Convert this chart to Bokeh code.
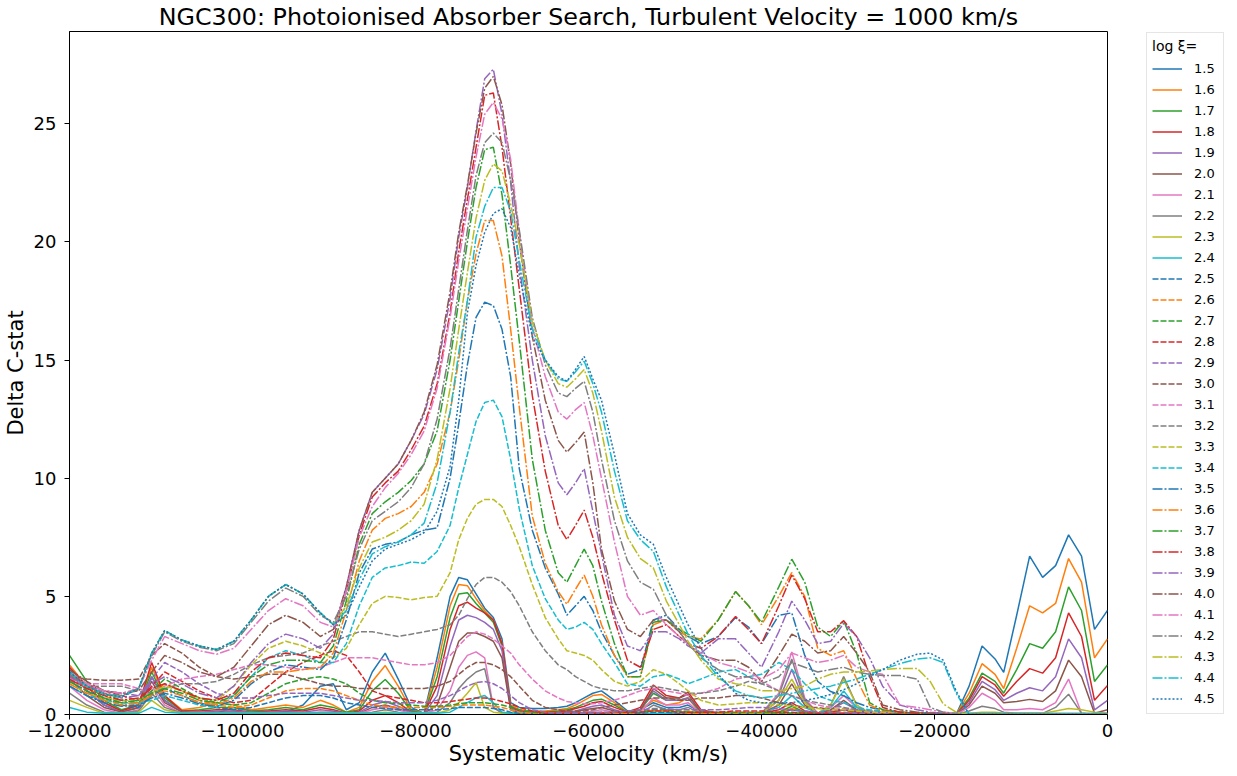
from bokeh.plotting import figure
from bokeh.models import Range1d, FixedTicker, CustomJSTickFormatter, Legend, LegendItem
from bokeh.embed import file_html
from bokeh.resources import INLINE

VELOCITY = [
    -120000, -118000, -116000, -114000, -112000, -110500, -109000, -107000, -105000, -103000,
    -101000, -99000, -97000, -95000, -93000, -91000, -89500, -88000, -86500, -85000,
    -83500, -82000, -80500, -79000, -77500, -76000, -75000, -74000, -73000, -72000,
    -71000, -70000, -69000, -68000, -66500, -65000, -63500, -62500, -61500, -60500,
    -59500, -58500, -57000, -55500, -54000, -52500, -51000, -49500, -48500, -47000,
    -45000, -43000, -41500, -40000, -38000, -36500, -35000, -33500, -32000, -30500,
    -29000, -27500, -26000, -24000, -22000, -20500, -19000, -17500, -16000, -14500,
    -13000, -12000, -10500, -9000, -7500, -6000, -4500, -3000, -1500, 0,
]

LOG_XI = ["1.5", "1.6", "1.7", "1.8", "1.9", "2.0", "2.1", "2.2", "2.3", "2.4",
          "2.5", "2.6", "2.7", "2.8", "2.9", "3.0", "3.1", "3.2", "3.3", "3.4",
          "3.5", "3.6", "3.7", "3.8", "3.9", "4.0", "4.1", "4.2", "4.3", "4.4", "4.5"]

dc15 = ([1.9, 1.0, 0.4, 0.1, 0.3, 1.6, 0.6, 0.1, 0.05, 0.05]
        + [0.3, 0.2, 0.1, 0.1, 0.4, 1.2, 1.3, 0.2, 0.5, 1.8]
        + [2.6, 1.5, 0.3, 0.05, 2.4, 5.0, 5.8, 5.7, 5.1, 4.5]
        + [4.1, 3.2, 0.5, 0.3, 0.25, 0.25, 0.3, 0.35, 0.5, 0.7]
        + [0.9, 1.0, 0.6, 0.15, 0.2, 0.5, 0.3, 0.3, 0.4, 0.1]
        + [0.05, 0.05, 0.05, 0.05, 0.1, 0.2, 0.1, 0.05, 0.1, 0.2]
        + [0.1, 0.05, 0.05, 0.05, 0.05, 0.05, 0.05, 0.0, 1.2, 2.9]
        + [2.35, 1.78, 4.2, 6.7, 5.8, 6.3, 7.6, 6.7, 3.6, 4.4])
dc16 = ([2.1, 1.2, 0.5, 0.15, 0.4, 2.0, 0.8, 0.2, 0.3, 0.5]
        + [0.4, 0.2, 0.3, 0.4, 0.3, 0.6, 0.4, 0.1, 0.3, 1.4]
        + [2.07, 1.2, 0.2, 0.05, 2.0, 4.6, 5.5, 5.45, 4.9, 4.4]
        + [4.0, 3.0, 0.4, 0.2, 0.15, 0.15, 0.2, 0.25, 0.4, 0.6]
        + [0.8, 0.85, 0.5, 0.1, 0.2, 0.6, 0.4, 0.5, 0.7, 0.05]
        + [0.05, 0.05, 0.05, 0.05, 0.1, 0.25, 0.1, 0.05, 0.1, 0.2]
        + [0.1, 0.05, 0.05, 0.05, 0.05, 0.05, 0.05, 0.0, 0.9, 2.15]
        + [1.7, 1.1, 2.8, 4.6, 4.3, 4.7, 6.6, 5.6, 2.4, 3.2])
dc17 = ([2.5, 1.4, 0.6, 0.2, 0.4, 1.8, 0.7, 0.15, 0.2, 0.3]
        + [0.3, 0.15, 0.2, 0.3, 0.2, 0.4, 0.3, 0.1, 0.2, 1.0]
        + [1.48, 0.9, 0.15, 0.05, 1.6, 4.1, 5.1, 5.15, 4.7, 4.3]
        + [3.9, 2.9, 0.35, 0.15, 0.1, 0.1, 0.15, 0.2, 0.3, 0.45]
        + [0.6, 0.65, 0.4, 0.1, 0.2, 0.9, 0.6, 0.6, 0.7, 0.1]
        + [0.05, 0.05, 0.05, 0.05, 0.1, 0.35, 0.1, 0.05, 0.1, 0.2]
        + [0.1, 0.05, 0.05, 0.05, 0.05, 0.05, 0.05, 0.0, 0.7, 1.75]
        + [1.4, 0.9, 1.9, 3.0, 2.8, 3.5, 5.4, 4.4, 1.4, 2.1])
dc18 = ([2.0, 1.2, 0.5, 0.15, 0.4, 2.2, 0.8, 0.15, 0.15, 0.2]
        + [0.2, 0.1, 0.15, 0.2, 0.15, 0.3, 0.2, 0.05, 0.15, 0.6]
        + [0.8, 0.5, 0.1, 0.05, 1.2, 3.6, 4.6, 4.75, 4.5, 4.3]
        + [4.0, 3.0, 0.3, 0.15, 0.1, 0.1, 0.1, 0.15, 0.25, 0.35]
        + [0.5, 0.55, 0.3, 0.1, 0.3, 1.25, 0.8, 0.7, 0.95, 0.2]
        + [0.05, 0.05, 0.05, 0.05, 0.2, 0.5, 0.15, 0.05, 0.1, 0.2]
        + [0.1, 0.05, 0.05, 0.05, 0.05, 0.05, 0.05, 0.0, 0.6, 1.6]
        + [1.25, 0.77, 1.4, 1.94, 1.75, 2.4, 4.3, 3.3, 0.6, 1.23])
dc19 = ([1.8, 1.0, 0.4, 0.1, 0.3, 1.6, 0.6, 0.1, 0.1, 0.15]
        + [0.15, 0.1, 0.1, 0.15, 0.1, 0.2, 0.15, 0.05, 0.1, 0.4]
        + [0.55, 0.35, 0.1, 0.05, 0.8, 2.9, 4.0, 4.2, 4.1, 3.9]
        + [3.6, 2.7, 0.25, 0.1, 0.05, 0.05, 0.05, 0.1, 0.15, 0.25]
        + [0.35, 0.4, 0.2, 0.05, 0.2, 1.0, 0.6, 0.6, 0.7, 0.15]
        + [0.05, 0.05, 0.05, 0.05, 0.6, 1.9, 0.5, 0.05, 0.2, 0.5]
        + [0.2, 0.05, 0.05, 0.05, 0.05, 0.05, 0.05, 0.0, 0.5, 1.4]
        + [1.05, 0.6, 0.9, 1.13, 1.0, 1.6, 3.2, 2.4, 0.2, 0.6])
dc20 = ([1.5, 0.8, 0.3, 0.1, 0.3, 1.4, 0.5, 0.1, 0.05, 0.1]
        + [0.1, 0.05, 0.05, 0.1, 0.05, 0.1, 0.1, 0.05, 0.05, 0.3]
        + [0.4, 0.25, 0.05, 0.05, 0.4, 2.0, 3.1, 3.45, 3.45, 3.3]
        + [3.1, 2.4, 0.2, 0.05, 0.05, 0.05, 0.05, 0.05, 0.1, 0.2]
        + [0.25, 0.3, 0.15, 0.05, 0.2, 1.1, 0.7, 0.7, 0.85, 0.1]
        + [0.05, 0.05, 0.05, 0.05, 0.4, 1.3, 0.4, 0.05, 0.2, 0.6]
        + [0.2, 0.05, 0.05, 0.05, 0.05, 0.05, 0.05, 0.0, 0.4, 1.2]
        + [0.9, 0.5, 0.55, 0.64, 0.55, 1.0, 2.3, 1.6, 0.05, 0.2])
dc21 = ([1.2, 0.6, 0.2, 0.05, 0.2, 1.2, 0.4, 0.05, 0.05, 0.05]
        + [0.05, 0.05, 0.05, 0.05, 0.05, 0.05, 0.05, 0.05, 0.05, 0.2]
        + [0.3, 0.2, 0.05, 0.05, 0.2, 1.0, 2.0, 2.5, 2.65, 2.4]
        + [0.3, 0.1, 0.05, 0.05, 0.05, 0.05, 0.05, 0.05, 0.05, 0.1]
        + [0.15, 0.2, 0.1, 0.05, 0.1, 0.7, 0.4, 0.4, 0.5, 0.05]
        + [0.05, 0.05, 0.05, 0.05, 0.9, 2.65, 0.7, 0.05, 0.3, 0.8]
        + [0.3, 0.05, 0.05, 0.05, 0.05, 0.05, 0.05, 0.0, 0.3, 0.9]
        + [0.6, 0.2, 0.2, 0.25, 0.2, 0.5, 1.5, 0.05, 0.0, 0.0])
dc22 = ([0.9, 0.4, 0.1, 0.05, 0.15, 0.9, 0.3, 0.05, 0.05, 0.05]
        + [0.05, 0.05, 0.05, 0.05, 0.05, 0.05, 0.05, 0.05, 0.05, 0.1]
        + [0.2, 0.1, 0.05, 0.05, 0.1, 0.5, 1.1, 1.5, 1.8, 1.94]
        + [0.3, 0.05, 0.05, 0.05, 0.05, 0.05, 0.05, 0.05, 0.05, 0.05]
        + [0.1, 0.1, 0.05, 0.05, 0.05, 0.4, 0.2, 0.2, 0.3, 0.05]
        + [0.05, 0.05, 0.05, 0.05, 0.8, 2.35, 0.6, 0.05, 0.4, 1.6]
        + [0.4, 0.05, 0.05, 0.05, 0.05, 0.05, 0.05, 0.0, 0.15, 0.35]
        + [0.25, 0.1, 0.05, 0.05, 0.05, 0.3, 0.86, 0.05, 0.0, 0.0])
dc23 = ([0.6, 0.3, 0.05, 0.05, 0.1, 0.6, 0.2, 0.05, 0.05, 0.05]
        + [0.05, 0.05, 0.05, 0.05, 0.05, 0.05, 0.05, 0.05, 0.05, 0.05]
        + [0.1, 0.05, 0.05, 0.05, 0.05, 0.2, 0.5, 0.9, 1.35, 0.3]
        + [0.1, 0.05, 0.05, 0.05, 0.05, 0.05, 0.05, 0.05, 0.05, 0.05]
        + [0.05, 0.05, 0.05, 0.05, 0.05, 0.2, 0.1, 0.1, 0.15, 0.05]
        + [0.05, 0.05, 0.05, 0.05, 0.6, 1.5, 0.5, 0.05, 0.4, 1.5]
        + [0.4, 0.05, 0.05, 0.05, 0.05, 0.05, 0.05, 0.0, 0.05, 0.1]
        + [0.1, 0.05, 0.05, 0.05, 0.05, 0.15, 0.25, 0.2, 0.1, 0.05])
dc24 = ([0.3, 0.1, 0.05, 0.05, 0.05, 0.3, 0.1, 0.05, 0.05, 0.05]
        + [0.05, 0.05, 0.05, 0.05, 0.05, 0.05, 0.05, 0.05, 0.05, 0.05]
        + [0.05, 0.05, 0.05, 0.05, 0.05, 0.1, 0.3, 0.5, 0.7, 0.8]
        + [0.5, 0.1, 0.05, 0.05, 0.05, 0.05, 0.05, 0.05, 0.05, 0.05]
        + [0.05, 0.05, 0.05, 0.05, 0.05, 0.05, 0.05, 0.05, 0.05, 0.05]
        + [0.05, 0.05, 0.05, 0.05, 0.3, 0.8, 0.3, 0.05, 0.3, 1.0]
        + [0.3, 0.05, 0.05, 0.05, 0.05, 0.05, 0.05, 0.05, 0.05, 0.05]
        + [0.05, 0.05, 0.05, 0.05, 0.05, 0.05, 0.05, 0.05, 0.05, 0.05])
dc25 = ([1.4, 1.0, 0.7, 0.4, 0.3, 0.8, 1.1, 0.8, 0.5, 0.3]
        + [0.2, 0.3, 0.5, 0.7, 0.8, 0.8, 0.7, 0.5, 0.4, 0.3]
        + [0.25, 0.2, 0.2, 0.2, 0.2, 0.25, 0.3, 0.3, 0.3, 0.3]
        + [0.25, 0.2, 0.1, 0.05, 0.05, 0.05, 0.05, 0.05, 0.05, 0.05]
        + [0.05, 0.05, 0.05, 0.05, 0.05, 0.1, 0.1, 0.05, 0.05, 0.05]
        + [0.05, 0.05, 0.05, 0.05, 0.05, 0.05, 0.05, 0.05, 0.05, 0.05]
        + [0.05, 0.05, 0.05, 0.05, 0.05, 0.05, 0.05, 0.0, 0.0, 0.0]
        + [0.0, 0.0, 0.0, 0.0, 0.0, 0.0, 0.0, 0.0, 0.0, 0.0])
dc26 = ([1.5, 1.1, 0.8, 0.5, 0.4, 0.9, 1.3, 1.0, 0.6, 0.4]
        + [0.3, 0.4, 0.7, 1.0, 1.1, 1.1, 1.0, 0.8, 0.6, 0.4]
        + [0.35, 0.3, 0.3, 0.3, 0.3, 0.35, 0.4, 0.4, 0.4, 0.4]
        + [0.35, 0.3, 0.2, 0.1, 0.05, 0.05, 0.05, 0.05, 0.05, 0.05]
        + [0.05, 0.05, 0.05, 0.05, 0.1, 0.15, 0.15, 0.1, 0.05, 0.05]
        + [0.05, 0.05, 0.05, 0.05, 0.05, 0.05, 0.05, 0.05, 0.05, 0.05]
        + [0.05, 0.05, 0.05, 0.05, 0.05, 0.05, 0.05, 0.0, 0.0, 0.0]
        + [0.0, 0.0, 0.0, 0.0, 0.0, 0.0, 0.0, 0.0, 0.0, 0.0])
dc27 = ([1.6, 1.2, 0.9, 0.6, 0.5, 1.0, 1.5, 1.1, 0.7, 0.5]
        + [0.4, 0.5, 0.9, 1.3, 1.5, 1.6, 1.5, 1.3, 0.9, 0.6]
        + [0.5, 0.45, 0.4, 0.35, 0.35, 0.4, 0.45, 0.5, 0.5, 0.5]
        + [0.45, 0.4, 0.3, 0.2, 0.1, 0.05, 0.05, 0.05, 0.05, 0.05]
        + [0.05, 0.05, 0.1, 0.1, 0.1, 0.2, 0.2, 0.15, 0.1, 0.1]
        + [0.1, 0.1, 0.1, 0.1, 0.05, 0.05, 0.05, 0.05, 0.05, 0.05]
        + [0.05, 0.05, 0.05, 0.05, 0.05, 0.05, 0.05, 0.0, 0.0, 0.0]
        + [0.0, 0.0, 0.0, 0.0, 0.0, 0.0, 0.0, 0.0, 0.0, 0.0])
dc28 = ([1.7, 1.3, 1.0, 0.8, 0.6, 1.2, 1.8, 1.4, 1.0, 0.7]
        + [0.5, 0.6, 1.2, 1.8, 2.2, 2.5, 2.7, 2.5, 1.8, 1.0]
        + [0.8, 0.7, 0.6, 0.5, 0.5, 0.55, 0.6, 0.65, 0.7, 0.7]
        + [0.65, 0.55, 0.45, 0.3, 0.15, 0.05, 0.05, 0.05, 0.05, 0.05]
        + [0.05, 0.05, 0.1, 0.1, 0.1, 0.15, 0.15, 0.1, 0.1, 0.1]
        + [0.1, 0.15, 0.15, 0.15, 0.1, 0.1, 0.05, 0.05, 0.05, 0.05]
        + [0.05, 0.05, 0.05, 0.05, 0.05, 0.05, 0.05, 0.0, 0.0, 0.0]
        + [0.0, 0.0, 0.0, 0.0, 0.0, 0.0, 0.0, 0.0, 0.0, 0.0])
dc29 = ([1.5, 1.2, 1.0, 0.9, 0.8, 1.5, 2.2, 1.8, 1.3, 0.9]
        + [0.7, 0.7, 0.8, 0.9, 0.9, 0.9, 0.8, 0.7, 0.6, 0.6]
        + [0.55, 0.5, 0.5, 0.5, 0.6, 0.8, 1.0, 1.2, 1.35, 1.4]
        + [1.3, 1.1, 0.8, 0.5, 0.2, 0.1, 0.05, 0.05, 0.05, 0.05]
        + [0.05, 0.1, 0.1, 0.15, 0.2, 0.25, 0.25, 0.2, 0.2, 0.2]
        + [0.2, 0.25, 0.3, 0.3, 0.25, 0.2, 0.15, 0.1, 0.1, 0.1]
        + [0.05, 0.05, 0.05, 0.05, 0.05, 0.05, 0.05, 0.0, 0.0, 0.0]
        + [0.0, 0.0, 0.0, 0.0, 0.0, 0.0, 0.0, 0.0, 0.0, 0.0])
dc30 = ([1.6, 1.5, 1.45, 1.45, 1.5, 2.5, 3.0, 2.6, 2.0, 1.6]
        + [1.5, 1.6, 1.7, 1.7, 1.5, 1.3, 1.2, 1.2, 1.1, 1.1]
        + [1.1, 1.1, 1.1, 1.1, 1.2, 1.4, 1.7, 2.0, 2.2, 2.2]
        + [2.1, 1.9, 1.6, 1.2, 0.6, 0.3, 0.2, 0.15, 0.15, 0.15]
        + [0.2, 0.3, 0.4, 0.5, 0.6, 0.7, 0.7, 0.6, 0.6, 0.7]
        + [0.7, 0.8, 0.8, 0.7, 0.5, 0.4, 0.3, 0.3, 0.2, 0.2]
        + [0.15, 0.1, 0.1, 0.05, 0.05, 0.05, 0.05, 0.0, 0.0, 0.0]
        + [0.0, 0.0, 0.0, 0.0, 0.0, 0.0, 0.0, 0.0, 0.0, 0.0])
dc31 = ([1.5, 1.3, 1.3, 1.3, 1.1, 0.9, 1.2, 1.5, 1.6, 1.7]
        + [1.9, 2.1, 2.1, 2.0, 1.9, 2.0, 2.2, 2.4, 2.4, 2.4]
        + [2.3, 2.2, 2.1, 2.1, 2.2, 2.5, 2.9, 3.3, 3.5, 3.4]
        + [3.2, 2.9, 2.6, 2.1, 1.5, 1.0, 0.7, 0.55, 0.5, 0.45]
        + [0.45, 0.5, 0.6, 0.8, 1.0, 1.1, 1.0, 0.9, 0.8, 0.9]
        + [1.1, 1.5, 1.6, 1.4, 1.0, 0.8, 0.6, 0.4, 0.3, 0.25]
        + [0.2, 0.15, 0.1, 0.1, 0.05, 0.05, 0.05, 0.0, 0.0, 0.0]
        + [0.0, 0.0, 0.0, 0.0, 0.0, 0.0, 0.0, 0.0, 0.0, 0.0])
dc32 = ([1.4, 1.2, 1.2, 1.2, 1.0, 0.9, 1.1, 1.3, 1.3, 1.4]
        + [1.7, 2.1, 2.4, 2.5, 2.6, 2.9, 3.1, 3.3, 3.5, 3.5]
        + [3.4, 3.3, 3.4, 3.5, 3.6, 3.8, 4.2, 4.9, 5.5, 5.8]
        + [5.8, 5.6, 5.2, 4.6, 3.5, 2.7, 2.1, 1.9, 1.6, 1.4]
        + [1.2, 1.1, 1.0, 1.0, 1.1, 1.2, 1.1, 1.0, 0.9, 0.9]
        + [1.0, 1.2, 1.4, 1.3, 1.0, 0.8, 0.6, 0.5, 0.4, 0.3]
        + [0.2, 0.15, 0.1, 0.1, 0.05, 0.05, 0.05, 0.0, 0.0, 0.0]
        + [0.0, 0.0, 0.0, 0.0, 0.0, 0.0, 0.0, 0.0, 0.0, 0.0])
dc33 = ([1.3, 0.9, 0.7, 0.6, 0.6, 0.9, 1.2, 1.0, 0.7, 0.6]
        + [1.2, 2.1, 2.8, 3.1, 2.9, 2.6, 2.4, 2.8, 3.8, 4.7]
        + [5.0, 4.95, 4.85, 4.95, 5.0, 6.0, 7.4, 8.3, 8.9, 9.1]
        + [9.1, 8.8, 8.0, 7.1, 5.5, 4.1, 3.2, 2.7, 2.6, 2.5]
        + [2.3, 1.9, 1.4, 1.2, 1.4, 1.9, 1.7, 1.3, 1.0, 0.6]
        + [0.4, 0.45, 0.5, 0.5, 0.4, 0.35, 0.3, 0.25, 0.2, 0.2]
        + [0.15, 0.1, 0.1, 0.1, 0.05, 0.05, 0.05, 0.0, 0.0, 0.0]
        + [0.0, 0.0, 0.0, 0.0, 0.0, 0.0, 0.0, 0.0, 0.0, 0.0])
dc34 = ([1.2, 0.8, 0.6, 0.5, 0.5, 0.6, 0.8, 0.6, 0.4, 0.3]
        + [0.8, 1.6, 2.4, 2.7, 2.5, 2.2, 2.2, 3.0, 4.6, 5.8]
        + [6.2, 6.3, 6.45, 6.4, 6.9, 8.0, 9.6, 11.0, 12.4, 13.2]
        + [13.3, 12.6, 10.8, 8.7, 6.3, 4.9, 4.0, 3.6, 3.7, 3.9]
        + [3.6, 3.0, 2.2, 1.3, 1.2, 1.6, 1.7, 1.5, 1.3, 1.5]
        + [1.8, 1.9, 1.6, 1.7, 2.2, 1.9, 1.3, 0.8, 0.6, 0.5]
        + [0.3, 0.2, 0.15, 0.1, 0.05, 0.05, 0.05, 0.0, 0.0, 0.0]
        + [0.0, 0.0, 0.0, 0.0, 0.0, 0.0, 0.0, 0.0, 0.0, 0.0])
dc35 = ([1.2, 0.8, 0.5, 0.35, 0.4, 0.7, 0.9, 0.7, 0.45, 0.35]
        + [0.6, 1.3, 1.8, 2.1, 2.0, 1.9, 2.4, 4.0, 6.0, 7.0]
        + [7.2, 7.3, 7.6, 7.8, 7.9, 10.0, 12.3, 14.8, 16.8, 17.45]
        + [17.3, 16.3, 14.3, 10.4, 7.8, 6.2, 5.1, 4.2, 4.6, 5.0]
        + [4.4, 3.5, 2.5, 1.7, 1.9, 4.0, 4.2, 3.6, 3.3, 3.0]
        + [3.3, 4.1, 3.7, 3.0, 4.2, 4.3, 2.5, 1.4, 0.97, 0.8]
        + [0.5, 0.3, 0.2, 0.1, 0.05, 0.05, 0.05, 0.0, 0.0, 0.0]
        + [0.0, 0.0, 0.0, 0.0, 0.0, 0.0, 0.0, 0.0, 0.0, 0.0])
dc36 = ([1.3, 0.9, 0.6, 0.4, 0.5, 0.8, 1.0, 0.8, 0.5, 0.4]
        + [0.7, 1.4, 1.8, 1.8, 1.9, 2.0, 2.6, 4.4, 6.5, 7.8]
        + [8.3, 8.5, 8.8, 9.4, 10.6, 12.8, 15.0, 17.5, 19.5, 20.9]
        + [20.9, 19.4, 16.3, 13.0, 8.4, 6.4, 5.2, 4.67, 5.3, 5.9]
        + [5.0, 3.8, 2.5, 1.6, 1.6, 3.8, 4.0, 3.5, 3.3, 3.2]
        + [4.0, 5.2, 4.6, 3.8, 5.0, 6.0, 5.0, 2.8, 2.5, 2.7]
        + [1.5, 0.4, 0.15, 0.1, 0.05, 0.0, 0.0, 0.0, 0.0, 0.0]
        + [0.0, 0.0, 0.0, 0.0, 0.0, 0.0, 0.0, 0.0, 0.0, 0.0])
dc37 = ([1.4, 1.0, 0.7, 0.5, 0.6, 0.9, 1.1, 0.9, 0.6, 0.5]
        + [0.8, 1.6, 2.1, 2.3, 2.3, 2.2, 2.9, 4.8, 7.2, 8.5]
        + [9.0, 9.4, 9.9, 10.6, 12.0, 15.0, 17.5, 20.0, 22.3, 23.9]
        + [24.0, 22.0, 19.0, 15.8, 10.8, 7.8, 6.0, 5.6, 6.3, 7.0]
        + [6.3, 4.8, 3.0, 1.6, 1.6, 3.9, 4.0, 3.6, 3.4, 3.1]
        + [4.0, 5.2, 4.6, 3.9, 5.4, 6.57, 5.6, 3.7, 3.3, 3.97]
        + [2.6, 0.5, 0.2, 0.1, 0.05, 0.0, 0.0, 0.0, 0.0, 0.0]
        + [0.0, 0.0, 0.0, 0.0, 0.0, 0.0, 0.0, 0.0, 0.0, 0.0])
dc38 = ([1.5, 1.1, 0.8, 0.6, 0.7, 1.1, 1.3, 1.0, 0.7, 0.6]
        + [0.9, 1.8, 2.4, 2.6, 2.5, 2.4, 3.2, 5.2, 7.6, 9.2]
        + [9.8, 10.3, 11.2, 12.2, 14.0, 17.0, 19.6, 21.8, 24.0, 26.2]
        + [26.3, 24.0, 21.0, 18.0, 13.5, 10.3, 8.0, 7.4, 8.0, 8.65]
        + [7.5, 6.0, 4.0, 2.3, 2.0, 3.6, 3.8, 3.3, 3.0, 2.8]
        + [3.3, 4.15, 3.6, 3.0, 4.6, 5.9, 4.9, 3.5, 3.5, 3.97]
        + [3.3, 1.6, 0.3, 0.1, 0.05, 0.0, 0.0, 0.0, 0.0, 0.0]
        + [0.0, 0.0, 0.0, 0.0, 0.0, 0.0, 0.0, 0.0, 0.0, 0.0])
dc39 = ([1.6, 1.2, 0.9, 0.7, 0.8, 1.3, 1.6, 1.3, 0.9, 0.7]
        + [1.2, 2.2, 3.0, 3.4, 3.2, 2.8, 3.4, 5.4, 7.8, 9.4]
        + [10.0, 10.6, 11.6, 12.7, 14.6, 17.6, 20.2, 22.3, 24.7, 26.9]
        + [27.3, 25.4, 22.5, 19.0, 15.0, 11.8, 9.8, 9.3, 9.8, 10.4]
        + [8.6, 6.8, 4.2, 2.9, 2.7, 3.5, 3.5, 3.2, 2.9, 2.6]
        + [3.2, 3.2, 2.6, 2.0, 3.5, 4.8, 4.0, 3.0, 3.1, 3.85]
        + [3.3, 2.4, 1.2, 0.4, 0.2, 0.1, 0.05, 0.0, 0.0, 0.0]
        + [0.0, 0.0, 0.0, 0.0, 0.0, 0.0, 0.0, 0.0, 0.0, 0.0])
dc40 = ([1.9, 1.4, 1.0, 0.9, 1.0, 1.8, 2.5, 2.2, 1.8, 1.6]
        + [2.0, 2.9, 3.8, 4.2, 3.9, 3.3, 3.6, 5.4, 7.8, 9.4]
        + [10.0, 10.6, 11.6, 12.8, 14.8, 17.9, 20.4, 22.4, 24.6, 26.5]
        + [27.0, 25.8, 23.3, 20.0, 16.0, 13.3, 11.6, 11.1, 11.5, 11.95]
        + [9.8, 7.0, 4.8, 3.6, 3.3, 4.0, 4.0, 3.5, 3.0, 2.5]
        + [2.3, 2.3, 2.0, 1.4, 2.5, 3.4, 3.1, 2.6, 2.7, 3.3]
        + [2.6, 1.8, 0.4, 0.2, 0.1, 0.05, 0.05, 0.0, 0.0, 0.0]
        + [0.0, 0.0, 0.0, 0.0, 0.0, 0.0, 0.0, 0.0, 0.0, 0.0])
dc41 = ([1.8, 1.3, 1.0, 0.9, 1.1, 2.3, 3.3, 3.0, 2.7, 2.55]
        + [2.8, 3.6, 4.4, 4.9, 4.6, 3.9, 3.7, 5.2, 7.5, 8.8]
        + [9.6, 10.2, 11.0, 12.0, 13.8, 16.8, 19.2, 21.4, 23.6, 25.4]
        + [25.9, 25.2, 23.5, 20.4, 16.4, 14.3, 12.8, 12.5, 12.9, 13.2]
        + [11.8, 10.0, 7.3, 5.0, 4.2, 4.4, 3.8, 3.3, 3.0, 2.6]
        + [2.2, 2.0, 1.8, 1.5, 1.9, 2.6, 2.4, 2.2, 2.3, 2.5]
        + [2.0, 1.8, 1.7, 0.4, 0.3, 0.2, 0.1, 0.05, 0.0, 0.0]
        + [0.0, 0.0, 0.0, 0.0, 0.0, 0.0, 0.0, 0.0, 0.0, 0.0])
dc42 = ([1.7, 1.2, 0.9, 0.8, 1.1, 2.5, 3.5, 3.1, 2.85, 2.7]
        + [3.0, 3.9, 4.8, 5.35, 5.0, 4.2, 3.9, 5.0, 7.0, 8.2]
        + [8.6, 9.0, 9.6, 10.6, 12.5, 15.5, 18.0, 20.5, 22.8, 24.2]
        + [24.6, 24.2, 22.6, 20.5, 16.8, 14.8, 13.6, 13.45, 13.8, 14.1]
        + [12.8, 10.8, 8.2, 6.5, 5.6, 5.3, 4.2, 3.5, 3.0, 2.4]
        + [1.9, 1.6, 1.6, 1.3, 1.6, 2.2, 2.0, 1.8, 1.9, 2.0]
        + [1.8, 1.7, 1.65, 1.65, 1.5, 0.3, 0.1, 0.05, 0.0, 0.0]
        + [0.0, 0.0, 0.0, 0.0, 0.0, 0.0, 0.0, 0.0, 0.0, 0.0])
dc43 = ([1.8, 1.2, 0.85, 0.75, 1.1, 2.6, 3.55, 3.15, 2.9, 2.75]
        + [3.1, 4.0, 5.0, 5.5, 5.1, 4.3, 3.8, 4.6, 6.2, 7.3]
        + [7.5, 7.8, 8.2, 8.9, 10.8, 13.8, 16.3, 18.7, 21.0, 22.6]
        + [23.3, 23.0, 21.6, 19.9, 16.6, 15.0, 14.0, 13.85, 14.2, 14.6]
        + [13.6, 12.0, 9.2, 7.5, 6.6, 6.2, 4.8, 3.8, 3.1, 2.3]
        + [1.5, 1.3, 1.2, 1.0, 1.0, 1.1, 1.2, 1.5, 1.7, 1.8]
        + [1.8, 1.85, 1.9, 1.95, 1.95, 1.4, 0.45, 0.1, 0.0, 0.0]
        + [0.0, 0.0, 0.0, 0.0, 0.0, 0.0, 0.0, 0.0, 0.0, 0.0])
dc44 = ([1.8, 1.2, 0.85, 0.75, 1.1, 2.6, 3.55, 3.15, 2.9, 2.75]
        + [3.1, 4.0, 5.0, 5.5, 5.1, 4.3, 3.8, 4.4, 5.7, 6.8]
        + [7.1, 7.3, 7.6, 8.1, 9.8, 12.8, 15.3, 17.5, 20.2, 21.5]
        + [22.3, 22.3, 21.3, 19.2, 16.3, 15.0, 14.2, 14.1, 14.5, 14.95]
        + [14.0, 12.8, 10.3, 8.2, 7.4, 6.9, 5.4, 4.2, 3.4, 2.5]
        + [1.6, 1.0, 0.8, 0.7, 0.8, 0.9, 1.0, 1.1, 1.2, 1.35]
        + [1.5, 1.7, 1.9, 2.15, 2.35, 2.4, 2.2, 0.9, 0.0, 0.0]
        + [0.0, 0.0, 0.0, 0.0, 0.0, 0.0, 0.0, 0.0, 0.0, 0.0])
dc45 = ([1.8, 1.2, 0.85, 0.75, 1.1, 2.6, 3.55, 3.15, 2.9, 2.75]
        + [3.1, 4.0, 5.0, 5.5, 5.1, 4.3, 3.8, 4.2, 5.4, 6.5]
        + [7.0, 7.2, 7.4, 7.7, 8.6, 10.5, 13.3, 17.0, 19.0, 20.4]
        + [21.2, 21.4, 20.6, 18.6, 16.0, 15.0, 14.3, 14.1, 14.6, 15.15]
        + [14.2, 13.3, 11.0, 8.5, 7.6, 7.2, 5.8, 4.6, 3.8, 2.8]
        + [1.7, 0.9, 0.6, 0.5, 0.5, 0.5, 0.6, 0.7, 0.85, 1.05]
        + [1.3, 1.6, 1.9, 2.3, 2.55, 2.6, 2.3, 1.0, 0.0, 0.0]
        + [0.0, 0.0, 0.0, 0.0, 0.0, 0.0, 0.0, 0.0, 0.0, 0.0])

SERIES = [dc15, dc16, dc17, dc18, dc19, dc20, dc21, dc22, dc23, dc24,
          dc25, dc26, dc27, dc28, dc29, dc30, dc31, dc32, dc33, dc34,
          dc35, dc36, dc37, dc38, dc39, dc40, dc41, dc42, dc43, dc44, dc45]

TAB10 = ["#1f77b4", "#ff7f0e", "#2ca02c", "#d62728", "#9467bd",
         "#8c564b", "#e377c2", "#7f7f7f", "#bcbd22", "#17becf"]
COLORS = TAB10 * 3 + [TAB10[0]]
DASHES = ["solid"] * 10 + ["6 2"] * 10 + ["10 2 2 2"] * 10 + ["2 2"]

FONT = "DejaVu Sans"

p = figure(frame_width=1038, frame_height=683,
           x_range=Range1d(-120000, 0), y_range=Range1d(0, 28.9),
           output_backend="svg", toolbar_location=None,
           min_border_left=0, min_border_top=0, min_border_bottom=0, min_border_right=4,
           title="NGC300: Photoionised Absorber Search, Turbulent Velocity = 1000 km/s")
p.background_fill_color = "white"
p.border_fill_color = "white"
p.outline_line_color = "black"
p.outline_line_width = 1
p.xgrid.visible = False
p.ygrid.visible = False

p.title.text_font = FONT
p.title.text_font_size = "23.8px"
p.title.text_font_style = "normal"
p.title.text_color = "black"
p.title.align = "center"
p.title.offset = 9
p.title.standoff = 1
p.title.text_line_height = 0.9

p.xaxis.ticker = FixedTicker(ticks=[-120000, -100000, -80000, -60000, -40000, -20000, 0])
p.xaxis.formatter = CustomJSTickFormatter(
    code="return tick < 0 ? '\u2212' + (-tick).toFixed(0) : tick.toFixed(0);")
p.yaxis.ticker = FixedTicker(ticks=[0, 5, 10, 15, 20, 25])
p.xaxis.axis_label = "Systematic Velocity (km/s)"
p.yaxis.axis_label = "Delta C-stat"
for ax in (p.xaxis, p.yaxis):
    ax.axis_label_text_font = FONT
    ax.axis_label_text_font_size = "21px"
    ax.axis_label_text_font_style = "normal"
    ax.axis_label_text_color = "black"
    ax.axis_label_text_line_height = 1.0
    ax.major_label_text_font = FONT
    ax.major_label_text_font_size = "18px"
    ax.major_label_text_color = "black"
    ax.major_tick_in = 0
    ax.major_tick_out = 5
    ax.minor_tick_in = 0
    ax.minor_tick_out = 0
    ax.axis_line_color = "black"
    ax.major_tick_line_color = "black"
p.xaxis.major_label_standoff = 4
p.xaxis.axis_label_standoff = 2
p.yaxis.major_label_standoff = 8
p.yaxis.axis_label_standoff = 3

items = []
for lab, ys, col, dash in zip(LOG_XI, SERIES, COLORS, DASHES):
    r = p.line(VELOCITY, ys, line_color=col, line_width=1.5, line_dash=dash)
    items.append(LegendItem(label=lab, renderers=[r]))

legend = Legend(items=items, title="log \u03be=", location=(39, 0))
legend.margin = 20
legend.padding = 5
legend.spacing = 2
legend.glyph_width = 30
legend.glyph_height = 19
legend.label_height = 19
legend.label_width = 24
legend.label_standoff = 12
legend.label_text_font = FONT
legend.label_text_font_size = "13px"
legend.label_text_color = "black"
legend.title_text_font = FONT
legend.title_text_font_size = "14px"
legend.title_text_font_style = "normal"
legend.title_text_color = "black"
legend.title_standoff = 5
legend.border_line_color = "#cccccc"
legend.border_line_width = 1
legend.background_fill_color = "white"
legend.background_fill_alpha = 0.8
p.add_layout(legend, "right")

with open("out.html", "w", encoding="utf-8") as f:
    f.write(file_html(p, INLINE))
